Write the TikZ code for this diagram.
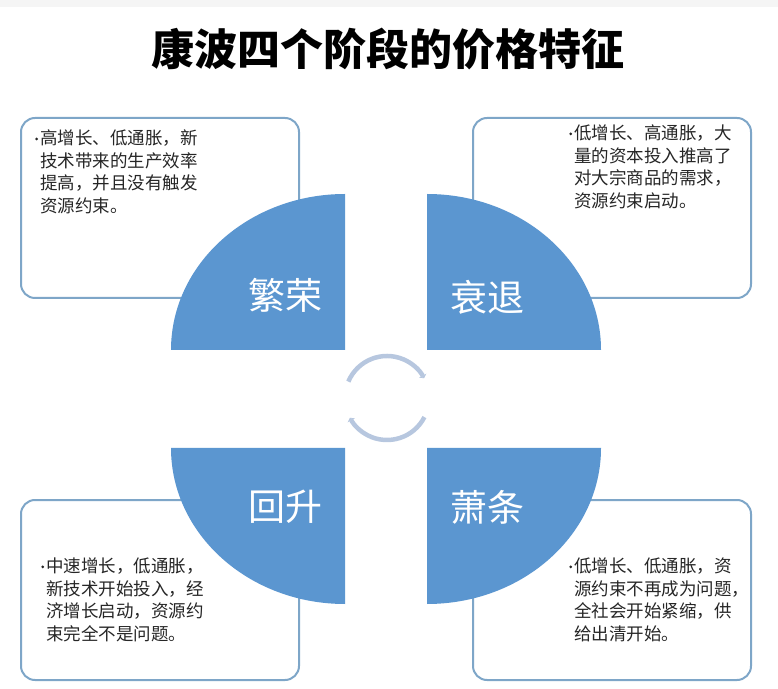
\documentclass[tikz,border=0pt]{standalone}
\usepackage{fontspec}
\setmainfont{Noto Sans CJK SC}
\usepackage{tikz}
\usetikzlibrary{arrows.meta,positioning}
\definecolor{phaseblue}{HTML}{5B96D0}
\definecolor{boxline}{HTML}{7EA6C8}
\definecolor{cyclegray}{HTML}{B7C7DF}
\definecolor{txtgray}{HTML}{262626}
\newcommand{\blt}{\llap{\makebox[7pt][c]{\raisebox{4.5pt}{\tikz\fill[txtgray] (0,0) circle (1.5pt);}}}}

\begin{document}
\begin{tikzpicture}[x=1pt, y=1pt, >=Triangle, semithick]
\tikzstyle{infobox}=[draw=boxline,line width=2pt,rounded corners=14pt,fill=white,minimum width=278pt,minimum height=180pt,inner sep=0pt]
\tikzstyle{note}=[inner sep=0pt,align=left,anchor=north west,text=txtgray,font=\fontsize{17.5}{22.5}\selectfont]
\tikzstyle{phase}=[text=white,font=\fontsize{37}{40}\selectfont,inner sep=0pt]
\tikzstyle{quarter}=[fill=phaseblue]
\tikzstyle{cyclearrow}=[draw=cyclegray,line width=4.5pt,-{Triangle[length=3pt,width=8pt]}]

\useasboundingbox (0,0) rectangle (778,688);
\fill[gray!8] (0,681) rectangle (778,688);
\node[font=\bfseries\fontsize{43}{46}\selectfont] (title) at (388,639) {康波四个阶段的价格特征};

% text boxes
\node[infobox] (boxTL) at (160,480) {};
\node[infobox] (boxTR) at (612,480) {};
\node[infobox] (boxBL) at (160,98)  {};
\node[infobox] (boxBR) at (612,98)  {};

\node[note, below right=13pt and 20pt of boxTL.north west]  (noteTL) {\blt 高增长、低通胀，新\\技术带来的生产效率\\提高，并且没有触发\\资源约束。};
\node[note, below right=8pt and 102pt of boxTR.north west]  (noteTR) {\blt 低增长、高通胀，大\\量的资本投入推高了\\对大宗商品的需求，\\资源约束启动。};
\node[note, below right=59pt and 26pt of boxBL.north west]  (noteBL) {\blt 中速增长，低通胀，\\新技术开始投入，经\\济增长启动，资源约\\束完全不是问题。};
\node[note, below right=59pt and 102pt of boxBR.north west] (noteBR) {\blt 低增长、低通胀，资\\源约束不再成为问题，\\全社会开始紧缩，供\\给出清开始。};

% four phases
\fill[quarter] (345,338) -- ++(-174,0) arc[start angle=180, end angle=90,  x radius=174, y radius=156] -- cycle;
\fill[quarter] (427,338) -- ++(174,0)  arc[start angle=0,   end angle=90,  x radius=174, y radius=156] -- cycle;
\fill[quarter] (345,240) -- ++(-174,0) arc[start angle=180, end angle=270, x radius=174, y radius=156] -- cycle;
\fill[quarter] (427,240) -- ++(174,0)  arc[start angle=0,   end angle=-90, x radius=174, y radius=156] -- cycle;

\node[phase] (boom)    at (285,393) {繁荣};
\node[phase] (recess)  at (487,391) {衰退};
\node[phase] (revive)  at (285,181) {回升};
\node[phase] (depress) at (487,181) {萧条};

% cycle arrows
\coordinate (hub) at (387,290);
\draw[cyclearrow] (hub) ++(157:42) arc[start angle=157, end angle=28,   radius=42];
\draw[cyclearrow] (hub) ++(-27:42) arc[start angle=-27, end angle=-152, radius=42];
\end{tikzpicture}
\end{document}
